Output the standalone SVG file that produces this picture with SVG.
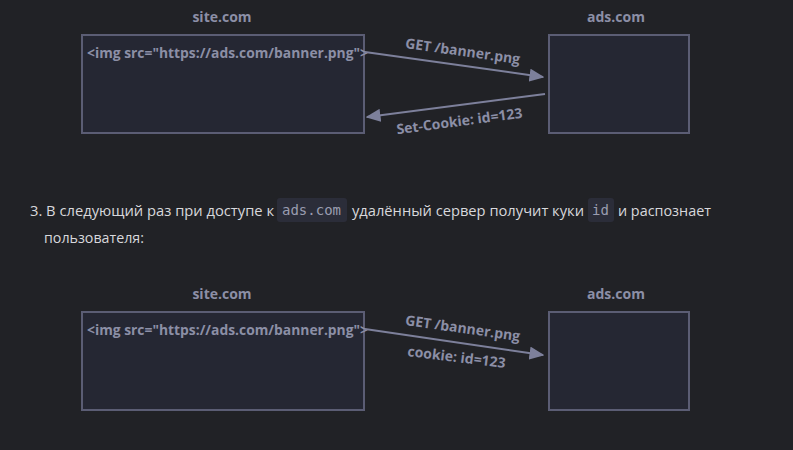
<svg xmlns="http://www.w3.org/2000/svg" width="793" height="450" viewBox="0 0 793 450">
<defs>
<style>
.bg{fill:#212226}
.box{fill:#252733;stroke:#5b5d74;stroke-width:2}
.ttl{font-family:"Open Sans","Liberation Sans",sans-serif;font-weight:700;font-size:14px;fill:#8c8fa6;text-anchor:middle}
.lbl{font-family:"Open Sans","Liberation Sans",sans-serif;font-weight:700;font-size:14px;fill:#8c8fa6}
.edge{stroke:#7d809b;stroke-width:2;fill:none}
.p{font-family:"Open Sans","Liberation Sans",sans-serif;font-size:14.5px;fill:#d8d8dc}
.code{font-family:"DejaVu Sans Mono","Liberation Mono",monospace;font-size:14px;fill:#9a9db0}
.codebg{fill:#2b2d39}
</style>
<marker id="ahl" viewBox="0 0 10 10" refX="9" refY="5" markerWidth="15" markerHeight="13" markerUnits="userSpaceOnUse" orient="auto" preserveAspectRatio="none">
<path d="M0,0 L10,5 L0,10 z" fill="#7d809b"/>
</marker>
</defs>
<rect class="bg" x="0" y="0" width="793" height="450"/>

<g id="site1">
<text class="ttl" x="222" y="22">site.com</text>
<rect class="box" x="82" y="35" width="282" height="98"/>
<text class="lbl" x="87" y="58" textLength="281" lengthAdjust="spacingAndGlyphs">&lt;img src="https://ads.com/banner.png"&gt;</text>
</g>
<g id="ads1">
<text class="ttl" x="616" y="22">ads.com</text>
<rect class="box" x="549" y="35" width="140" height="98"/>
</g>
<g id="edges1">
<line class="edge" x1="365" y1="52" x2="543" y2="77" marker-end="url(#ahl)"/>
<text class="lbl" transform="translate(462,56) rotate(8)" text-anchor="middle">GET /banner.png</text>
<line class="edge" x1="545" y1="94" x2="367" y2="117" marker-end="url(#ahl)"/>
<text class="lbl" transform="translate(460,126) rotate(-7.5)" text-anchor="middle">Set-Cookie: id=123</text>
</g>

<g id="para">
<text class="p" x="30" y="216" textLength="244" lengthAdjust="spacingAndGlyphs">3. В следующий раз при доступе к</text>
<rect class="codebg" x="277" y="198" width="70" height="24" rx="3"/>
<text class="code" x="282" y="215">ads.com</text>
<text class="p" x="352" y="216" textLength="232" lengthAdjust="spacingAndGlyphs">удалённый сервер получит куки</text>
<rect class="codebg" x="588" y="198" width="26" height="24" rx="3"/>
<text class="code" x="592" y="215">id</text>
<text class="p" x="618" y="216" textLength="93" lengthAdjust="spacingAndGlyphs">и распознает</text>
<text class="p" x="44" y="243" textLength="100" lengthAdjust="spacingAndGlyphs">пользователя:</text>
</g>

<g id="site2">
<text class="ttl" x="222" y="299">site.com</text>
<rect class="box" x="82" y="312" width="282" height="98"/>
<text class="lbl" x="87" y="335" textLength="281" lengthAdjust="spacingAndGlyphs">&lt;img src="https://ads.com/banner.png"&gt;</text>
</g>
<g id="ads2">
<text class="ttl" x="616" y="299">ads.com</text>
<rect class="box" x="549" y="312" width="140" height="98"/>
</g>
<g id="edges2">
<line class="edge" x1="365" y1="329" x2="543" y2="355" marker-end="url(#ahl)"/>
<text class="lbl" transform="translate(462,333) rotate(8)" text-anchor="middle">GET /banner.png</text>
<text class="lbl" transform="translate(456,362) rotate(7)" text-anchor="middle">cookie: id=123</text>
</g>
</svg>
